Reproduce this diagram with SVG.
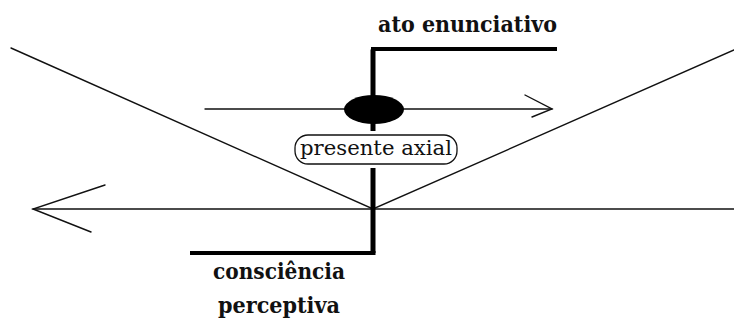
<svg xmlns="http://www.w3.org/2000/svg" width="734" height="320" viewBox="0 0 734 320">
<style>
.thin{fill:none;stroke:#111;stroke-width:1.4;stroke-linecap:round;stroke-linejoin:miter}
.thick{fill:none;stroke:#000;stroke-width:5}
.bar{fill:none;stroke:#000;stroke-width:4}
.lbl{font-family:'DejaVu Serif','Liberation Serif',serif;font-weight:bold;font-size:23px;fill:#111}
.pa{font-family:'DejaVu Serif','Liberation Serif',serif;font-size:21px;fill:#111}
</style>
<rect width="734" height="320" fill="#fff"/>
<g id="connectors">
<path class="thin" d="M11 48 L373 209 L734 50"/>
<path class="thin" d="M33 209 H734"/>
<path class="thin" d="M105 185 L33 209 L91 232"/>
<path class="thin" d="M205 109 H552"/>
<path class="thin" d="M525 95 L552 109 L532 117"/>
</g>
<g id="ato-enunciativo">
<path class="thick" d="M373 131 V49.5"/>
<path class="bar" d="M371 49 H557"/>
<text class="lbl" x="378" y="32" textLength="179" lengthAdjust="spacingAndGlyphs">ato enunciativo</text>
</g>
<g id="consciencia-perceptiva">
<path class="thick" d="M373 168 V253"/>
<path class="bar" d="M190 253 H375.5"/>
<text class="lbl" x="213" y="279" textLength="132" lengthAdjust="spacingAndGlyphs">consciência</text>
<text class="lbl" x="218" y="313" textLength="122" lengthAdjust="spacingAndGlyphs">perceptiva</text>
</g>
<g id="ponto">
<ellipse cx="374" cy="109.5" rx="30" ry="14.5" fill="#000"/>
</g>
<g id="presente-axial">
<rect x="295" y="135" width="162" height="29" rx="13" ry="13" fill="#fff" stroke="#111" stroke-width="1.3"/>
<text class="pa" x="300" y="155" textLength="152" lengthAdjust="spacingAndGlyphs">presente axial</text>
</g>
</svg>
